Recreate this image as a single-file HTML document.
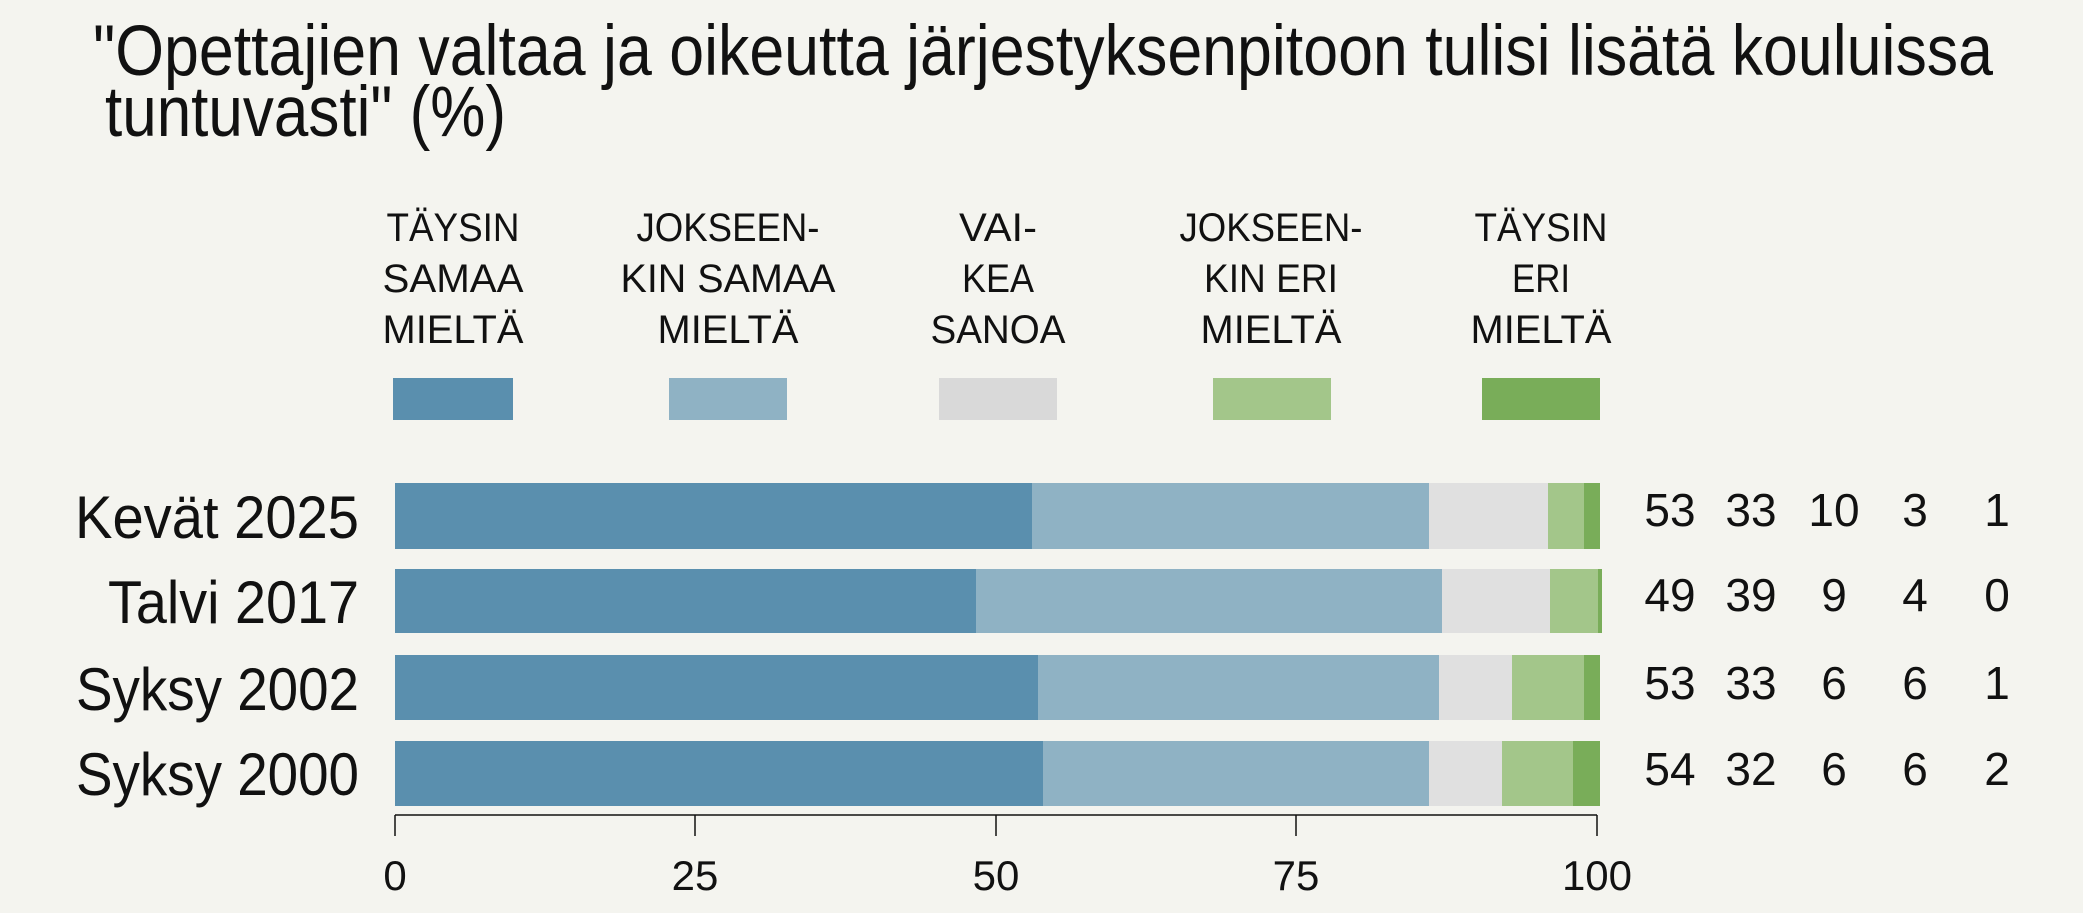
<!DOCTYPE html>
<html><head><meta charset="utf-8"><style>
html,body{margin:0;padding:0;background:#f4f4ef;}
svg{display:block;font-family:"Liberation Sans",sans-serif;}
</style></head><body>
<svg width="2083" height="913" viewBox="0 0 2083 913" xmlns="http://www.w3.org/2000/svg">
<rect width="2083" height="913" fill="#f4f4ef"/>
<g fill="#111" font-size="71">
<text x="93" y="75" textLength="1900" lengthAdjust="spacingAndGlyphs">"Opettajien valtaa ja oikeutta järjestyksenpitoon tulisi lisätä kouluissa</text>
<text x="105" y="136" textLength="401" lengthAdjust="spacingAndGlyphs">tuntuvasti" (%)</text>
</g>
<g fill="#111" font-size="40" text-anchor="middle">
<text x="453" y="241" textLength="133" lengthAdjust="spacingAndGlyphs">TÄYSIN</text>
<text x="453" y="292" textLength="141" lengthAdjust="spacingAndGlyphs">SAMAA</text>
<text x="453" y="343" textLength="141" lengthAdjust="spacingAndGlyphs">MIELTÄ</text>
<text x="728" y="241" textLength="183" lengthAdjust="spacingAndGlyphs">JOKSEEN-</text>
<text x="728" y="292" textLength="215" lengthAdjust="spacingAndGlyphs">KIN SAMAA</text>
<text x="728" y="343" textLength="141" lengthAdjust="spacingAndGlyphs">MIELTÄ</text>
<text x="998" y="241" textLength="78" lengthAdjust="spacingAndGlyphs">VAI-</text>
<text x="998" y="292" textLength="72" lengthAdjust="spacingAndGlyphs">KEA</text>
<text x="998" y="343" textLength="135" lengthAdjust="spacingAndGlyphs">SANOA</text>
<text x="1271" y="241" textLength="183" lengthAdjust="spacingAndGlyphs">JOKSEEN-</text>
<text x="1271" y="292" textLength="134" lengthAdjust="spacingAndGlyphs">KIN ERI</text>
<text x="1271" y="343" textLength="141" lengthAdjust="spacingAndGlyphs">MIELTÄ</text>
<text x="1541" y="241" textLength="133" lengthAdjust="spacingAndGlyphs">TÄYSIN</text>
<text x="1541" y="292" textLength="58" lengthAdjust="spacingAndGlyphs">ERI</text>
<text x="1541" y="343" textLength="141" lengthAdjust="spacingAndGlyphs">MIELTÄ</text>
</g>
<rect x="393" y="378" width="120" height="42" fill="#5a8fae"/>
<rect x="669" y="378" width="118" height="42" fill="#8fb2c4"/>
<rect x="939" y="378" width="118" height="42" fill="#d9d9d9"/>
<rect x="1213" y="378" width="118" height="42" fill="#a3c68a"/>
<rect x="1482" y="378" width="118" height="42" fill="#79ad59"/>
<g>
<rect x="395" y="483" width="637" height="66" fill="#5a8fae"/>
<rect x="1032" y="483" width="397" height="66" fill="#8fb2c4"/>
<rect x="1429" y="483" width="119" height="66" fill="#e0e0e0"/>
<rect x="1548" y="483" width="36" height="66" fill="#a3c68a"/>
<rect x="1584" y="483" width="16" height="66" fill="#79ad59"/>

<rect x="395" y="569" width="581" height="64" fill="#5a8fae"/>
<rect x="976" y="569" width="466" height="64" fill="#8fb2c4"/>
<rect x="1442" y="569" width="108" height="64" fill="#e0e0e0"/>
<rect x="1550" y="569" width="48" height="64" fill="#a3c68a"/>
<rect x="1598" y="569" width="4" height="64" fill="#79ad59"/>

<rect x="395" y="655" width="643" height="65" fill="#5a8fae"/>
<rect x="1038" y="655" width="401" height="65" fill="#8fb2c4"/>
<rect x="1439" y="655" width="73" height="65" fill="#e0e0e0"/>
<rect x="1512" y="655" width="72" height="65" fill="#a3c68a"/>
<rect x="1584" y="655" width="16" height="65" fill="#79ad59"/>

<rect x="395" y="741" width="648" height="65" fill="#5a8fae"/>
<rect x="1043" y="741" width="386" height="65" fill="#8fb2c4"/>
<rect x="1429" y="741" width="73" height="65" fill="#e0e0e0"/>
<rect x="1502" y="741" width="71" height="65" fill="#a3c68a"/>
<rect x="1573" y="741" width="27" height="65" fill="#79ad59"/>
</g>
<g fill="#111" font-size="60" text-anchor="end">
<text x="359" y="538" textLength="284" lengthAdjust="spacingAndGlyphs">Kevät 2025</text>
<text x="359" y="623" textLength="251" lengthAdjust="spacingAndGlyphs">Talvi 2017</text>
<text x="359" y="710" textLength="283" lengthAdjust="spacingAndGlyphs">Syksy 2002</text>
<text x="359" y="795" textLength="283" lengthAdjust="spacingAndGlyphs">Syksy 2000</text>
</g>
<g fill="#111" font-size="46" text-anchor="middle">
<text x="1670" y="526">53</text><text x="1751" y="526">33</text><text x="1834" y="526">10</text><text x="1915" y="526">3</text><text x="1997" y="526">1</text>
<text x="1670" y="611">49</text><text x="1751" y="611">39</text><text x="1834" y="611">9</text><text x="1915" y="611">4</text><text x="1997" y="611">0</text>
<text x="1670" y="699">53</text><text x="1751" y="699">33</text><text x="1834" y="699">6</text><text x="1915" y="699">6</text><text x="1997" y="699">1</text>
<text x="1670" y="785">54</text><text x="1751" y="785">32</text><text x="1834" y="785">6</text><text x="1915" y="785">6</text><text x="1997" y="785">2</text>
</g>
<g stroke="#111" stroke-width="1.5">
<line x1="395" y1="815" x2="1597" y2="815"/>
<line x1="395" y1="815" x2="395" y2="836"/>
<line x1="695" y1="815" x2="695" y2="836"/>
<line x1="996" y1="815" x2="996" y2="836"/>
<line x1="1296" y1="815" x2="1296" y2="836"/>
<line x1="1597" y1="815" x2="1597" y2="836"/>
</g>
<g fill="#111" font-size="42" text-anchor="middle">
<text x="395" y="890">0</text><text x="695" y="890">25</text><text x="996" y="890">50</text><text x="1296" y="890">75</text><text x="1597" y="890">100</text>
</g>
</svg>
</body></html>
